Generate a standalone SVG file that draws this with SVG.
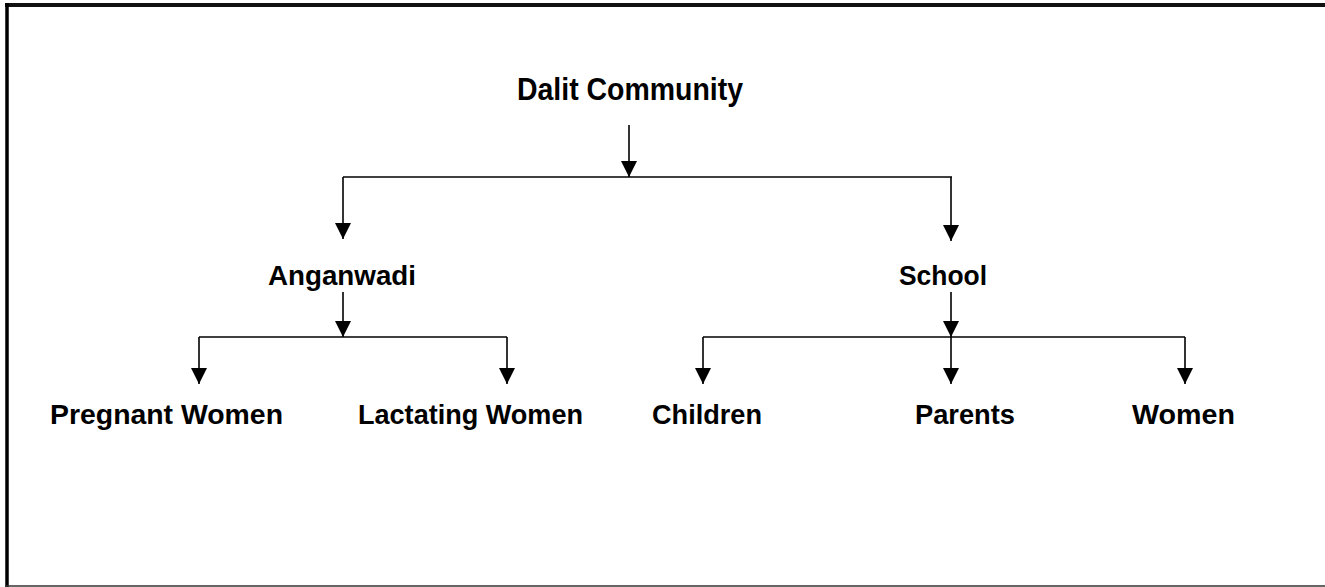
<svg xmlns="http://www.w3.org/2000/svg" width="1325" height="587" viewBox="0 0 1325 587">
<style>
.lbl{font-family:"Liberation Sans",Arial,sans-serif;font-weight:bold;fill:#000;text-anchor:middle;font-size:28px}
.ttl{font-size:31px}
.c{stroke:#000;stroke-width:1.6;fill:none}
</style>
<defs>
<marker id="ah" markerUnits="userSpaceOnUse" markerWidth="16" markerHeight="16" viewBox="0 0 16 16" refX="16" refY="8" orient="auto">
<path d="M0,0 L16,8 L0,16 Z" fill="#000"/>
</marker>
</defs>
<rect width="1325" height="587" fill="#fff"/>
<g id="frame">
<line x1="5" y1="5" x2="1325" y2="5" stroke="#111" stroke-width="4"/>
<line x1="7" y1="3" x2="7" y2="587" stroke="#000" stroke-width="3.5"/>
<line x1="5" y1="586" x2="1325" y2="586" stroke="#333" stroke-width="1.5"/>
</g>
<g id="connectors">
<line class="c" x1="629" y1="125" x2="629" y2="177" marker-end="url(#ah)"/>
<line class="c" x1="343" y1="177" x2="952" y2="177"/>
<line class="c" x1="343" y1="177" x2="343" y2="239" marker-end="url(#ah)"/>
<line class="c" x1="951" y1="177" x2="951" y2="241" marker-end="url(#ah)"/>
<line class="c" x1="343" y1="292" x2="343" y2="337" marker-end="url(#ah)"/>
<line class="c" x1="199" y1="337" x2="507" y2="337"/>
<line class="c" x1="199" y1="337" x2="199" y2="384" marker-end="url(#ah)"/>
<line class="c" x1="507" y1="337" x2="507" y2="384" marker-end="url(#ah)"/>
<line class="c" x1="951" y1="292" x2="951" y2="337" marker-end="url(#ah)"/>
<line class="c" x1="703" y1="337" x2="1185" y2="337"/>
<line class="c" x1="703" y1="337" x2="703" y2="384" marker-end="url(#ah)"/>
<line class="c" x1="951" y1="337" x2="951" y2="384" marker-end="url(#ah)"/>
<line class="c" x1="1185" y1="337" x2="1185" y2="384" marker-end="url(#ah)"/>
</g>
<g id="dalit"><text class="lbl ttl" x="630" y="100" textLength="226" lengthAdjust="spacingAndGlyphs">Dalit Community</text></g>
<g id="anganwadi"><text class="lbl" x="342" y="285" textLength="148" lengthAdjust="spacingAndGlyphs">Anganwadi</text></g>
<g id="school"><text class="lbl" x="943" y="285" textLength="88" lengthAdjust="spacingAndGlyphs">School</text></g>
<g id="pregnant"><text class="lbl" x="166.5" y="424" textLength="233" lengthAdjust="spacingAndGlyphs">Pregnant Women</text></g>
<g id="lactating"><text class="lbl" x="470.5" y="424" textLength="225" lengthAdjust="spacingAndGlyphs">Lactating Women</text></g>
<g id="children"><text class="lbl" x="707" y="424" textLength="110" lengthAdjust="spacingAndGlyphs">Children</text></g>
<g id="parents"><text class="lbl" x="965" y="424" textLength="100" lengthAdjust="spacingAndGlyphs">Parents</text></g>
<g id="women"><text class="lbl" x="1183.5" y="424" textLength="103" lengthAdjust="spacingAndGlyphs">Women</text></g>
</svg>
